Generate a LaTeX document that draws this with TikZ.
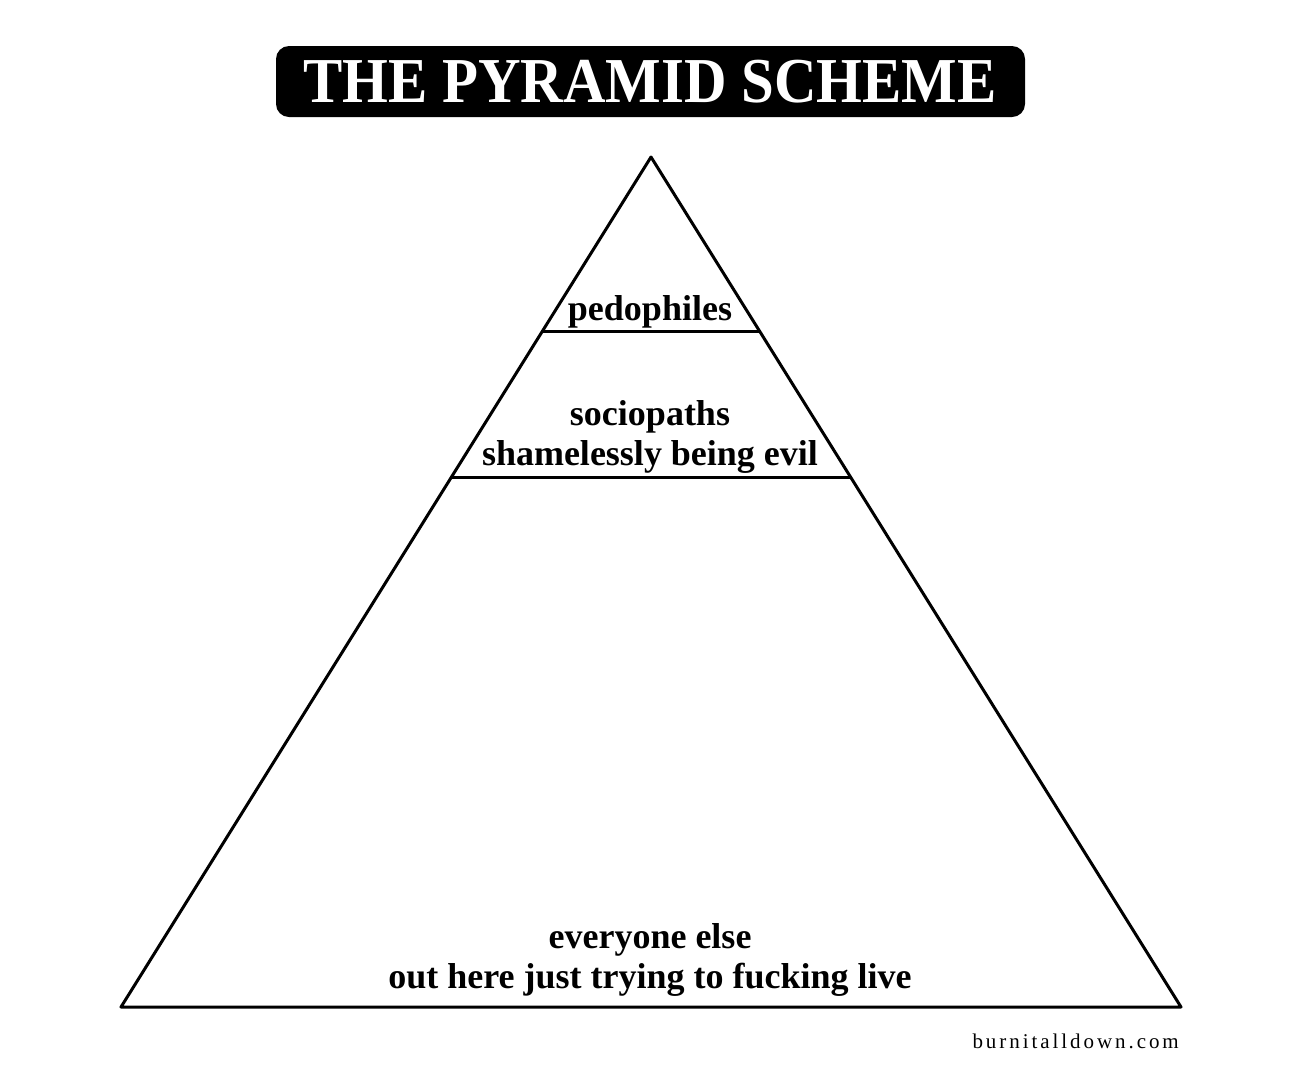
\documentclass[tikz,border=0pt]{standalone}
\usepackage{fontspec}
\setmainfont{Liberation Serif}
\newfontfamily\footfont[LetterSpace=14]{Liberation Serif}
\tikzset{
  edge/.style={line width=3pt, line join=round, line cap=round},
  tier/.style={font=\fontsize{36}{40}\selectfont\bfseries, align=center, inner sep=0pt, anchor=base},
  titlebox/.style={fill=black, rounded corners=13pt, minimum width=749pt, minimum height=71pt, inner sep=0pt},
}
\begin{document}
\begin{tikzpicture}[x=1pt,y=-1pt]
\useasboundingbox[fill=white] (0,0) rectangle (1300,1080);
\node[titlebox] (title) at (650.5,81.5) {};
\node[text=white, font=\fontsize{64}{64}\selectfont\bfseries, inner sep=0pt, anchor=base] (titletext) at (650,102) {\scalebox{0.92}[1]{THE PYRAMID SCHEME}};
\coordinate (apex) at (651,157);
\coordinate (bl) at (121,1007);
\coordinate (br) at (1181,1007);
\coordinate (l1a) at (542.5,331);
\coordinate (l1b) at (759.5,331);
\coordinate (l2a) at (451.5,477);
\coordinate (l2b) at (850.5,477);
\draw[edge] (apex) -- (br) -- (bl) -- cycle;
\draw[edge, line cap=butt] (l1a) -- (l1b);
\draw[edge, line cap=butt] (l2a) -- (l2b);
\node[tier] (t1) at (650,320) {pedophiles};
\node[tier] (t2) at (650,465) {sociopaths\\shamelessly being evil};
\node[tier] (t3) at (650,988) {everyone else\\out here just trying to fucking live};
\node[font=\footfont\fontsize{21}{21}\selectfont, anchor=base east, inner sep=0pt] (foot) at (1179,1048) {burnitalldown.com};
\end{tikzpicture}
\end{document}
